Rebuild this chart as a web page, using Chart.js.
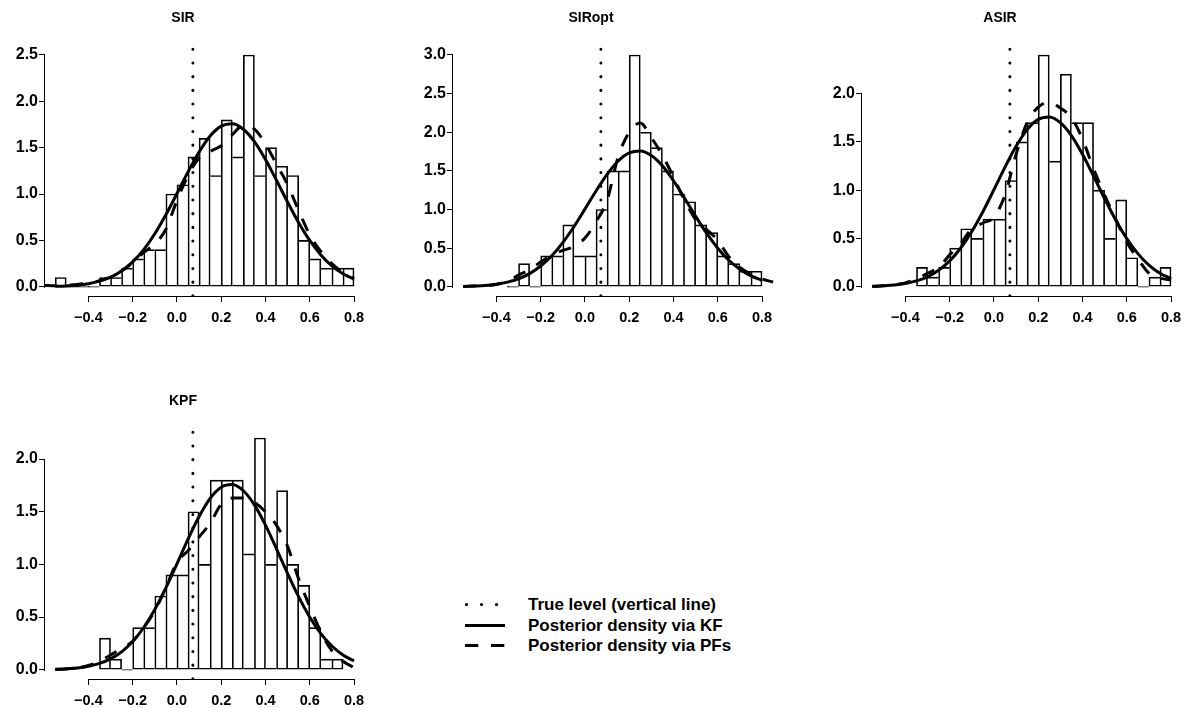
<!DOCTYPE html>
<html><head><meta charset="utf-8">
<script src="https://cdn.jsdelivr.net/npm/chart.js@4.4.1/dist/chart.umd.min.js"></script>
<style>
html,body{margin:0;padding:0;background:#fff}
body{width:1189px;height:708px;overflow:hidden;position:relative;font-family:"Liberation Sans",Arial,Helvetica,sans-serif}
canvas{position:absolute}
.lg{position:absolute;left:463px;width:400px;height:21px;line-height:21px;font-weight:bold;font-size:17px;color:#000;white-space:nowrap}
.lg svg{position:absolute;left:0;top:0}
.lg span{position:absolute;left:65px;top:0}
</style></head><body>
<canvas id="p0" width="411" height="340" style="left:0px;top:0px"></canvas>
<canvas id="p1" width="411" height="340" style="left:408px;top:0px"></canvas>
<canvas id="p2" width="411" height="340" style="left:817px;top:0px"></canvas>
<canvas id="p3" width="411" height="340" style="left:0px;top:383px"></canvas>

<div class="lg" style="top:593.5px"><svg width="44" height="21"><line x1="3.5" y1="10.5" x2="42" y2="10.5" stroke="#000" stroke-width="3.2" stroke-linecap="round" stroke-dasharray="0.1 14.9"/></svg><span>True level (vertical line)</span></div>
<div class="lg" style="top:614.5px"><svg width="44" height="21"><line x1="2" y1="10.5" x2="42" y2="10.5" stroke="#000" stroke-width="3"/></svg><span>Posterior density via KF</span></div>
<div class="lg" style="top:635.2px"><svg width="44" height="21"><line x1="2" y1="10.5" x2="42" y2="10.5" stroke="#000" stroke-width="3" stroke-dasharray="13.3 12.7"/></svg><span>Posterior density via PFs</span></div>

<script>
// ---------- data ----------
const binWidth = 0.05;
const trueLevel = 0.072;
const xTickValues = [-0.4, -0.2, 0, 0.2, 0.4, 0.6, 0.8];

// histogram densities (bins of width 0.05 starting at the given left edge)
const sirBinStart = -0.55;
const sirDensity = [0.1,0,0,0,0.1,0.1,0.2,0.3,0.4,0.4,1.0,1.1,1.4,1.6,1.2,1.8,1.4,2.5,1.2,1.5,1.3,1.2,0.5,0.3,0.2,0.2,0.2];
const siroptBinStart = -0.35;
const siroptDensity = [0,0.3,0,0.4,0.4,0.8,0.4,0.4,1.0,1.5,1.5,3.0,2.0,1.8,1.5,1.2,1.1,0.8,0.7,0.4,0.3,0.2,0.2];
const asirBinStart = -0.35;
const asirDensity = [0.2,0.1,0.2,0.4,0.6,0.5,0.7,0.7,1.1,1.5,1.7,2.4,1.3,2.2,1.7,1.7,1.0,0.5,0.9,0.3,0,0.1,0.2];
const kpfBinStart = -0.35;
const kpfDensity = [0.3,0.1,0,0.4,0.4,0.7,0.9,0.9,1.5,1.0,1.8,1.8,1.8,1.1,2.2,1.0,1.7,1.0,0.8,0.4,0.1,0.1];

// density curves sampled on a common grid
const curveX = [-0.6,-0.55,-0.5,-0.45,-0.4,-0.35,-0.3,-0.25,-0.2,-0.15,-0.1,-0.05,0,0.05,0.1,0.15,0.2,0.25,0.3,0.35,0.4,0.45,0.5,0.55,0.6,0.65,0.7,0.75,0.8,0.85];
const kfCurve = [null,0.004,0.009,0.017,0.033,0.060,0.103,0.170,0.268,0.401,0.572,0.777,1.005,1.239,1.454,1.627,1.733,1.758,1.699,1.565,1.372,1.146,0.912,0.691,0.499,0.343,0.225,0.140,0.083,null];
const sirPF    = [0.015,0.01,0.015,0.025,0.04,0.065,0.105,0.17,0.26,0.37,0.46,0.62,0.93,1.2,1.39,1.46,1.52,1.64,1.74,1.70,1.54,1.32,1.10,0.82,0.56,0.38,0.25,0.15,0.09,null];
const siroptPF = [null,0.003,0.008,0.015,0.03,0.07,0.15,0.22,0.32,0.41,0.47,0.52,0.63,0.84,1.12,1.68,2.0,2.12,1.93,1.7,1.42,1.12,0.87,0.74,0.6,0.39,0.25,0.16,0.1,0.06];
const asirPF   = [null,0.003,0.01,0.02,0.04,0.08,0.14,0.2,0.33,0.45,0.6,0.66,0.72,0.95,1.37,1.70,1.86,1.91,1.85,1.75,1.53,1.22,0.95,0.7,0.46,0.29,0.14,0.09,0.07,null];
const kpfPF    = [null,0.003,0.008,0.018,0.04,0.08,0.14,0.2,0.27,0.4,0.56,0.78,1.02,1.13,1.26,1.39,1.57,1.63,1.63,1.59,1.5,1.37,1.17,0.86,0.6,0.36,0.18,0.08,0.02,null];

// y tick values
const sirYTicks = [0, 0.5, 1.0, 1.5, 2.0, 2.5];
const siroptYTicks = [0, 0.5, 1.0, 1.5, 2.0, 2.5, 3.0];
const asirYTicks = [0, 0.5, 1.0, 1.5, 2.0];
const kpfYTicks = [0, 0.5, 1.0, 1.5, 2.0];

const panelTitles = ['SIR', 'SIRopt', 'ASIR', 'KPF'];

// ---------- drawing ----------
const FONT = '"Liberation Sans", Arial, Helvetica, sans-serif';
const xTickFont = {family: FONT, size: 14.5, weight: 'bold'};
const yTickFont = {family: FONT, size: 16, weight: 'bold'};
const titleFont = {family: FONT, size: 14, weight: 'bold'};
function fmtX(v) { return (v < 0 ? '\u2212' : '') + Math.abs(v).toFixed(1); }

const rAxes = {
  id: 'rAxes',
  afterDraw(chart) {
    const {ctx, chartArea} = chart;
    const x = chart.scales.x, y = chart.scales.y;
    ctx.save();
    ctx.strokeStyle = '#000';
    ctx.lineWidth = 1;
    ctx.beginPath();
    const yb = Math.round(chartArea.bottom) + 0.5;
    ctx.moveTo(Math.round(x.getPixelForValue(x.ticks[0].value)), yb);
    ctx.lineTo(Math.round(x.getPixelForValue(x.ticks[x.ticks.length - 1].value)) + 1, yb);
    const xl = Math.round(chartArea.left) - 0.5;
    ctx.moveTo(xl, Math.round(y.getPixelForValue(y.ticks[0].value)) + 1);
    ctx.lineTo(xl, Math.round(y.getPixelForValue(y.ticks[y.ticks.length - 1].value)));
    ctx.stroke();
    ctx.restore();
  }
};

function makePanel(canvasId, title, binStart, dens, pf, yTicks) {
  const centers = dens.map((_, i) => +(binStart + (i + 0.5) * binWidth).toFixed(4));
  const yTop = Math.max(...dens);
  const yMin = -0.04 * yTop, yMax = 1.04 * yTop;
  const borderW = (c) => {
    const i = c.dataIndex, v = dens[i];
    const prev = i > 0 ? dens[i - 1] : -1;
    const next = i < dens.length - 1 ? dens[i + 1] : -1;
    return {top: 1, bottom: 1, left: prev <= v ? 1 : 0, right: next < v ? 1 : 0};
  };
  const gridOpts = {display: true, drawOnChartArea: false, drawTicks: true, tickLength: 6, color: '#000', tickColor: '#000', tickWidth: 1, offset: false};
  new Chart(document.getElementById(canvasId), {
    type: 'bar',
    data: {
      datasets: [
        {type: 'line', label: 'True level', data: [{x: trueLevel, y: yMax}, {x: trueLevel, y: yMin}],
         borderColor: '#000', borderWidth: 3, borderDash: [0.1, 13.6], borderDashOffset: -3.5,
         borderCapStyle: 'round', pointRadius: 0, tension: 0, order: 1},
        {type: 'line', label: 'PF', data: curveX.map((x, i) => ({x: x, y: pf[i]})),
         borderColor: '#000', borderWidth: 3, borderDash: [13, 13], pointRadius: 0,
         cubicInterpolationMode: 'monotone', order: 2},
        {type: 'line', label: 'KF', data: curveX.map((x, i) => ({x: x, y: kfCurve[i]})),
         borderColor: '#000', borderWidth: 3, pointRadius: 0,
         cubicInterpolationMode: 'monotone', order: 3},
        {type: 'bar', label: 'hist', data: centers.map((x, i) => ({x: x, y: dens[i]})),
         backgroundColor: 'rgba(0,0,0,0)', borderColor: '#000', borderWidth: borderW,
         borderSkipped: false, barPercentage: 1, categoryPercentage: 1, minBarLength: 1, order: 4}
      ]
    },
    options: {
      responsive: false, animation: false, devicePixelRatio: 1,
      layout: {padding: {left: 0, right: 45, top: 0, bottom: 0}},
      plugins: {
        legend: {display: false}, tooltip: {enabled: false},
        title: {display: true, text: title, color: '#000', font: titleFont, padding: {top: 9.5, bottom: 19.4}}
      },
      scales: {
        x: {
          type: 'linear', position: 'bottom', min: -0.596, max: 0.854, offset: false,
          afterBuildTicks: s => { s.ticks = xTickValues.map(v => ({value: v})); },
          afterFit: s => { s.height = 44; s.paddingLeft = 0; s.paddingRight = 0; },
          ticks: {autoSkip: false, maxRotation: 0, color: '#000', font: xTickFont, padding: 7, callback: v => fmtX(v)},
          grid: gridOpts, border: {display: false}
        },
        y: {
          type: 'linear', position: 'left', min: yMin, max: yMax,
          afterBuildTicks: s => { s.ticks = yTicks.map(v => ({value: v})); },
          afterFit: s => { s.width = 45; s.paddingTop = 0; s.paddingBottom = 0; },
          ticks: {color: '#000', font: yTickFont, padding: 1, callback: v => v.toFixed(1)},
          grid: gridOpts, border: {display: false}
        }
      }
    },
    plugins: [rAxes]
  });
}

makePanel('p0', panelTitles[0], sirBinStart, sirDensity, sirPF, sirYTicks);
makePanel('p1', panelTitles[1], siroptBinStart, siroptDensity, siroptPF, siroptYTicks);
makePanel('p2', panelTitles[2], asirBinStart, asirDensity, asirPF, asirYTicks);
makePanel('p3', panelTitles[3], kpfBinStart, kpfDensity, kpfPF, kpfYTicks);
</script>
</body></html>
